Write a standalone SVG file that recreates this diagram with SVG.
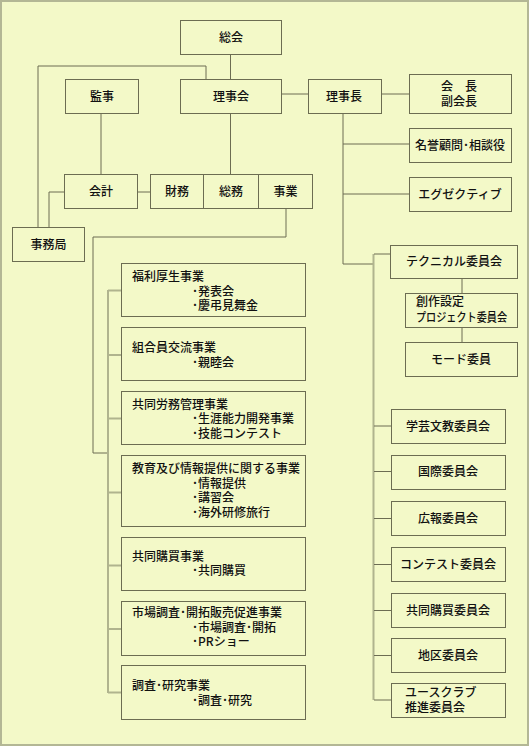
<svg xmlns="http://www.w3.org/2000/svg" width="530" height="746" viewBox="0 0 530 746">
<style>
.bg{fill:#f3f9c8;stroke:#b3b795;stroke-width:2}
.box{fill:#f3f9c8;stroke:#6c6d52;stroke-width:1}
.d{fill:none;stroke:#6c6d52;stroke-width:1}
.l{fill:none;stroke:#b0b48e;stroke-width:2}
text{font-family:"Noto Sans CJK JP","Noto Sans",sans-serif;font-size:12px;font-weight:500;fill:#111}
.c{text-anchor:middle}
</style>
<rect class="bg" x="1" y="1" width="527" height="744"/>
<g id="connectors">
<path class="d" d="M230.5 54V79"/>
<path class="d" d="M38 227V66H206V79"/>
<path class="d" d="M281 94H308"/>
<path class="d" d="M381 94H409"/>
<path class="d" d="M101 113V174"/>
<path class="d" d="M230.5 113V174"/>
<path class="d" d="M137 192H150"/>
<path class="d" d="M49 227V192H64"/>
<path class="d" d="M343 113V264H373"/>
<path class="d" d="M343 144H409"/>
<path class="d" d="M343 194H409"/>
<path class="l" d="M286 208V237"/>
<path class="d" d="M286 237H93"/>
<path class="d" d="M93 237V453"/>
<path class="d" d="M93 453H108"/>
<path class="l" d="M108 290V693"/>
<path class="l" d="M108 290.5H121M108 355H121M108 418.5H121M108 492.5H121M108 565.5H121M108 629H121M108 692.5H121"/>
<path class="l" d="M373.5 254V700"/>
<path class="d" d="M374 254H390M374 426H391M374 471.5H391M374 518.5H391M374 564.5H391M374 610.5H391M374 655.5H391M374 700H391"/>
<path class="d" d="M462 278V293M462 327V342"/>
</g>
<g id="soukai"><rect class="box" x="180.5" y="20.5" width="101" height="34"/><text class="c" x="231" y="42">総会</text></g>
<g id="kanji"><rect class="box" x="65.5" y="79.5" width="73" height="34"/><text class="c" x="102" y="101">監事</text></g>
<g id="rijikai"><rect class="box" x="180.5" y="79.5" width="101" height="34"/><text class="c" x="231" y="101">理事会</text></g>
<g id="rijicho"><rect class="box" x="308.5" y="79.5" width="73" height="34"/><text class="c" x="344" y="101">理事長</text></g>
<g id="kaicho"><rect class="box" x="409.5" y="74.5" width="102" height="39"/><text class="c" x="459" y="91">会　長<tspan x="459" dy="15">副会長</tspan></text></g>
<g id="meiyo"><rect class="box" x="409.5" y="128.5" width="102" height="34"/><text class="c" x="460" y="150">名誉顧問･相談役</text></g>
<g id="executive"><rect class="box" x="409.5" y="177.5" width="102" height="34"/><text class="c" x="460" y="199">エグゼクティブ</text></g>
<g id="kaikei"><rect class="box" x="64.5" y="174.5" width="73" height="34"/><text class="c" x="101" y="196">会計</text></g>
<g id="zaimu"><rect class="box" x="150.5" y="174.5" width="53" height="34"/><text class="c" x="177" y="196">財務</text></g>
<g id="soumu"><rect class="box" x="203.5" y="174.5" width="55" height="34"/><text class="c" x="231" y="196">総務</text></g>
<g id="jigyo"><rect class="box" x="258.5" y="174.5" width="54" height="34"/><text class="c" x="285.5" y="196">事業</text></g>
<g id="jimukyoku"><rect class="box" x="12.5" y="227.5" width="72" height="34"/><text class="c" x="48.5" y="249">事務局</text></g>
<g id="j1"><rect class="box" x="121.5" y="263.5" width="184" height="53"/><text x="132" y="281">福利厚生事業<tspan x="192" dy="14.5">･発表会</tspan><tspan x="192" dy="14.5">･慶弔見舞金</tspan></text></g>
<g id="j2"><rect class="box" x="121.5" y="327.5" width="184" height="53"/><text x="132" y="352">組合員交流事業<tspan x="192" dy="14.5">･親睦会</tspan></text></g>
<g id="j3"><rect class="box" x="121.5" y="391.5" width="184" height="53"/><text x="132" y="408.5">共同労務管理事業<tspan x="192" dy="14.5">･生涯能力開発事業</tspan><tspan x="192" dy="14.5">･技能コンテスト</tspan></text></g>
<g id="j4"><rect class="box" x="121.5" y="455.5" width="184" height="71"/><text x="132" y="473">教育及び情報提供に関する事業<tspan x="192" dy="14.5">･情報提供</tspan><tspan x="192" dy="14.5">･講習会</tspan><tspan x="192" dy="14.5">･海外研修旅行</tspan></text></g>
<g id="j5"><rect class="box" x="121.5" y="537.5" width="184" height="53"/><text x="132" y="560.5">共同購買事業<tspan x="192" dy="14.5">･共同購買</tspan></text></g>
<g id="j6"><rect class="box" x="121.5" y="601.5" width="184" height="54"/><text x="132" y="617">市場調査･開拓販売促進事業<tspan x="192" dy="14.5">･市場調査･開拓</tspan><tspan x="192" dy="14.5">･PRショー</tspan></text></g>
<g id="j7"><rect class="box" x="121.5" y="665.5" width="184" height="54"/><text x="132" y="690">調査･研究事業<tspan x="192" dy="14.5">･調査･研究</tspan></text></g>
<g id="technical"><rect class="box" x="390.5" y="245.5" width="127" height="33"/><text class="c" x="454" y="266">テクニカル委員会</text></g>
<g id="sousaku"><rect class="box" x="405.5" y="293.5" width="112" height="34"/><text x="416" y="306">創作設定<tspan x="416" dy="16" textLength="91" lengthAdjust="spacingAndGlyphs">プロジェクト委員会</tspan></text></g>
<g id="mode"><rect class="box" x="405.5" y="342.5" width="112" height="34"/><text class="c" x="461" y="364">モード委員</text></g>
<g id="gakugei"><rect class="box" x="391.5" y="409.5" width="114" height="34"/><text class="c" x="448" y="431">学芸文教委員会</text></g>
<g id="kokusai"><rect class="box" x="391.5" y="455.5" width="114" height="34"/><text class="c" x="448" y="476">国際委員会</text></g>
<g id="kouhou"><rect class="box" x="391.5" y="501.5" width="114" height="34"/><text class="c" x="448" y="523">広報委員会</text></g>
<g id="contest"><rect class="box" x="391.5" y="547.5" width="114" height="34"/><text class="c" x="448" y="569">コンテスト委員会</text></g>
<g id="kyodo"><rect class="box" x="391.5" y="593.5" width="114" height="34"/><text class="c" x="448" y="615">共同購買委員会</text></g>
<g id="chiku"><rect class="box" x="391.5" y="638.5" width="114" height="34"/><text class="c" x="448" y="660">地区委員会</text></g>
<g id="youth"><rect class="box" x="391.5" y="683.5" width="114" height="34"/><text x="405" y="697">ユースクラブ<tspan x="405" dy="15">推進委員会</tspan></text></g>
</svg>
